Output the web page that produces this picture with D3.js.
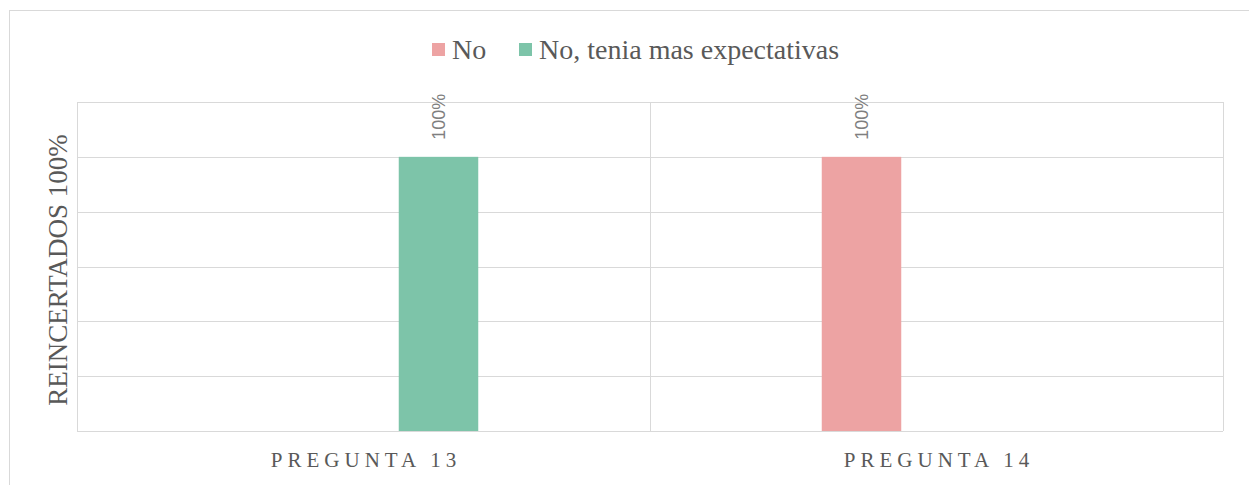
<!DOCTYPE html>
<html>
<head>
<meta charset="utf-8">
<script src="https://cdn.jsdelivr.net/npm/d3@7"></script>
<style>
  body { margin: 0; background: #fff; }
</style>
</head>
<body>
<script>
// chart data
const categories = ["PREGUNTA 13", "PREGUNTA 14"];
const seriesNames = ["No", "No, tenia mas expectativas"];
const seriesNo = [null, 1.0];
const seriesExpectativas = [1.0, null];
const yTicks = [0, 0.2, 0.4, 0.6, 0.8, 1.0, 1.2];

const colors = ["#eda3a3", "#7dc4a9"];

const W = 1249, H = 485;
const margin = {top: 102, right: 26, bottom: 54, left: 77},
    width = W - margin.left - margin.right,
    height = H - margin.top - margin.bottom;

const svg = d3.select("body")
    .append("svg")
    .attr("width", W)
    .attr("height", H);

// outer chart border
svg.append("rect")
    .attr("x", 9.5).attr("y", 10.5)
    .attr("width", W + 20).attr("height", H + 20)
    .attr("fill", "none")
    .attr("stroke", "#d9d9d9");

const g = svg.append("g")
    .attr("transform", `translate(${margin.left}, ${margin.top})`);

const x0 = d3.scaleBand()
    .domain(categories)
    .range([0, width])
    .padding(0);

const x1 = d3.scaleBand()
    .domain(seriesNames)
    .range([0, x0.bandwidth()])
    .paddingInner(0.47)
    .paddingOuter(1.145);

const y = d3.scaleLinear()
    .domain([0, 1.2])
    .range([height, 0]);

// horizontal gridlines
g.append("g")
    .selectAll("line")
    .data(yTicks)
    .enter()
    .append("line")
    .attr("x1", 0).attr("x2", width)
    .attr("y1", d => Math.round(y(d)) + 0.5)
    .attr("y2", d => Math.round(y(d)) + 0.5)
    .attr("stroke", "#d9d9d9")
    .attr("stroke-width", 1);

// vertical category separators
const seps = [0, ...categories.map(c => x0(c) + x0.bandwidth())];
g.append("g")
    .selectAll("line")
    .data(seps)
    .enter()
    .append("line")
    .attr("x1", d => Math.round(d) + 0.5)
    .attr("x2", d => Math.round(d) + 0.5)
    .attr("y1", 0).attr("y2", height)
    .attr("stroke", "#d9d9d9");

// bars
const rows = categories.map((c, i) => ({
    cat: c,
    values: [
        {key: seriesNames[0], v: seriesNo[i], color: colors[0]},
        {key: seriesNames[1], v: seriesExpectativas[i], color: colors[1]}
    ].filter(d => d.v != null)
}));

const groups = g.selectAll(".grp")
    .data(rows)
    .enter()
    .append("g")
    .attr("transform", d => `translate(${x0(d.cat)},0)`);

groups.selectAll("rect")
    .data(d => d.values)
    .enter()
    .append("rect")
    .attr("x", d => x1(d.key))
    .attr("y", d => y(d.v))
    .attr("width", x1.bandwidth())
    .attr("height", d => height - y(d.v))
    .attr("fill", d => d.color);

// data labels
groups.selectAll("text")
    .data(d => d.values)
    .enter()
    .append("text")
    .attr("transform", d => `translate(${x1(d.key) + x1.bandwidth() / 2 + 6.5},${y(d.v) - 17}) rotate(-90)`)
    .attr("font-family", "'Liberation Sans', Arial, sans-serif")
    .attr("font-size", 18)
    .attr("fill", "#7f7f7f")
    .text(d => d3.format(".0%")(d.v));

// category labels
g.append("g")
    .selectAll("text")
    .data(categories)
    .enter()
    .append("text")
    .attr("x", d => x0(d) + x0.bandwidth() / 2 + 2.5)
    .attr("y", height + 36)
    .attr("text-anchor", "middle")
    .attr("font-family", "'Liberation Serif', 'Times New Roman', serif")
    .attr("font-size", 21)
    .attr("letter-spacing", 5)
    .attr("fill", "#595959")
    .text(d => d);

// y axis title
svg.append("text")
    .attr("transform", `translate(67,270) rotate(-90)`)
    .attr("text-anchor", "middle")
    .attr("font-family", "'Liberation Serif', 'Times New Roman', serif")
    .attr("font-size", 27)
    .attr("fill", "#595959")
    .text("REINCERTADOS 100%");

// legend
const legend = svg.append("g").attr("transform", "translate(432,43)");
const legX = [0, 87];
seriesNames.forEach((s, i) => {
    legend.append("rect")
        .attr("x", legX[i]).attr("y", 0)
        .attr("width", 13).attr("height", 13)
        .attr("fill", colors[i]);
    legend.append("text")
        .attr("x", legX[i] + 20).attr("y", 16)
        .attr("font-family", "'Liberation Serif', 'Times New Roman', serif")
        .attr("font-size", 28)
        .attr("fill", "#595959")
        .text(s);
});
</script>
</body>
</html>
